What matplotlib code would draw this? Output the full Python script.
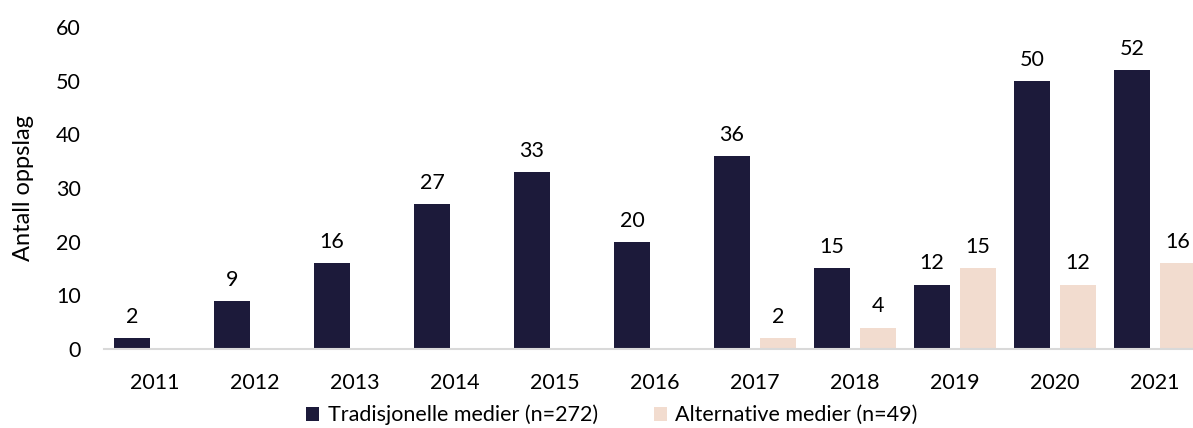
import numpy as np
import matplotlib
matplotlib.use("Agg")
import matplotlib.pyplot as plt

plt.rcParams['font.family'] = ['Lato', 'DejaVu Sans']

years = ['2011', '2012', '2013', '2014', '2015', '2016', '2017', '2018', '2019', '2020', '2021']
tradisjonelle = [2, 9, 16, 27, 33, 20, 36, 15, 12, 50, 52]
alternative = [np.nan, np.nan, np.nan, np.nan, np.nan, np.nan, 2, 4, 15, 12, 16]

DARK = '#1c1a3a'
PEACH = '#f2dccf'
FS = 15.5

fig = plt.figure(figsize=(11.93, 4.28), dpi=100)
ax = fig.add_axes([0.0872, 0.1846, 0.9128, 0.7523])

x = np.arange(len(years))
w = 0.36
off = 0.23

b1 = ax.bar(x - off, tradisjonelle, w, color=DARK, label='Tradisjonelle medier (n=272)')
b2 = ax.bar(x + off, alternative, w, color=PEACH, label='Alternative medier (n=49)')

# value labels above each bar
for bars, vals in ((b1, tradisjonelle), (b2, alternative)):
    for rect, v in zip(bars, vals):
        if np.isnan(v):
            continue
        ax.annotate(f'{int(v)}', (rect.get_x() + rect.get_width() / 2, v),
                    xytext=(0, 8), textcoords='offset points',
                    ha='center', va='bottom', fontsize=FS, color='black')

ax.set_xlim(-0.51, 10.38)
ax.set_ylim(0, 60)
ax.set_yticks(range(0, 61, 10))
ax.set_xticks(x)
ax.set_xticklabels(years)
ax.tick_params(axis='both', length=0, labelsize=FS, colors='black')
ax.tick_params(axis='y', pad=16.5)
ax.tick_params(axis='x', pad=17)

for s in ('top', 'right', 'left'):
    ax.spines[s].set_visible(False)
ax.spines['bottom'].set_color('#d9d9d9')
ax.spines['bottom'].set_linewidth(1.5)

ax.set_ylabel('Antall oppslag', fontsize=17, labelpad=16)

fig.legend(loc='center', bbox_to_anchor=(0.513, 1 - 415 / 428), ncol=2,
           frameon=False, fontsize=FS, handlelength=0.6, handleheight=0.6,
           handletextpad=0.4, columnspacing=2.6)

fig.savefig('out.png', dpi=100)
